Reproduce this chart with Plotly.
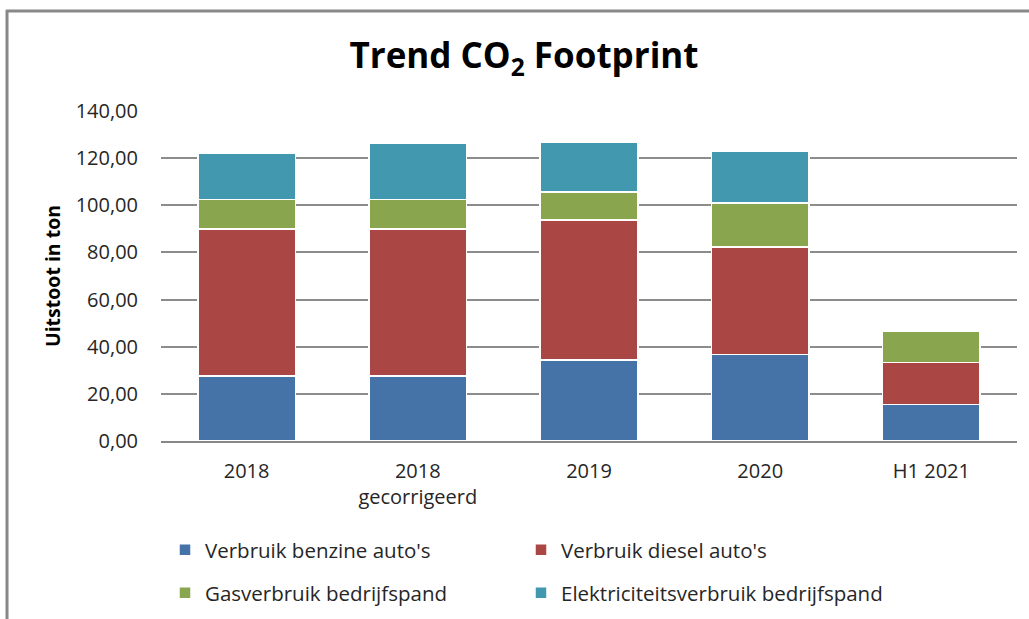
import plotly.graph_objects as go

categories = ["2018", "2018<br>gecorrigeerd", "2019", "2020", "H1 2021"]
benzine = [27.5, 27.5, 34.3, 36.7, 15.5]
diesel = [62.5, 62.5, 59.5, 45.7, 17.8]
gas = [12.4, 12.4, 11.9, 18.6, 13.1]
elektriciteit = [19.8, 24.0, 21.2, 22.0, 0]

series_names = ["Verbruik benzine auto's", "Verbruik diesel auto's",
                "Gasverbruik bedrijfspand", "Elektriciteitsverbruik bedrijfspand"]
colors = ["#4572A7", "#AA4643", "#89A54E", "#4198AF"]
y_ticks = [0, 20, 40, 60, 80, 100, 120, 140]

FONT = "'Open Sans', Lato, sans-serif"
legend_ids = ["legend", "legend2", "legend3", "legend4"]

fig = go.Figure()
for name, vals, col, lid in zip(series_names, [benzine, diesel, gas, elektriciteit], colors, legend_ids):
    fig.add_trace(go.Bar(
        x=categories, y=vals, name=name,
        marker=dict(color=col, line=dict(color="white", width=1.5)),
        legend=lid,
    ))

W, H = 1029, 619
L, R, T, B = 161, 12, 111, 178
pw, ph = W - L - R, H - T - B

def px(x):
    return (x - L) / pw

def py(y):
    return (H - B - y) / ph

legend_pos = [(165, 550), (521, 550), (165, 593), (521, 593)]
legend_layouts = {}
for lid, (lx, ly) in zip(legend_ids, legend_pos):
    legend_layouts[lid] = dict(orientation="h", x=px(lx), xanchor="left", y=py(ly), yanchor="middle",
                               font=dict(size=20.5, color="#262626"), bgcolor="rgba(0,0,0,0)")

fig.update_layout(
    width=W, height=H,
    barmode="stack", bargap=0.43,
    margin=dict(l=L, r=R, t=T, b=B, autoexpand=False),
    paper_bgcolor="white", plot_bgcolor="white",
    separators=",.",
    font=dict(family=FONT, size=19, color="#404040"),
    title=dict(text="<b>Trend CO<sub>2</sub> Footprint</b>", x=524 / W, xanchor="center",
               y=1 - 56 / H, yanchor="middle",
               font=dict(family=FONT, size=35, color="black")),
    xaxis=dict(showline=True, linecolor="#888888", linewidth=2, ticks="",
               tickfont=dict(size=20, color="#262626"), ticklabelstandoff=11),
    yaxis=dict(range=[0, 140], tickvals=y_ticks, tickformat=".2f",
               showgrid=True, gridcolor="#8c8c8c", gridwidth=1.5,
               zeroline=False, showline=False, ticks="outside", ticklen=0,
               tickfont=dict(size=20, color="#262626"), ticklabelstandoff=18,
               title=dict(text="<b>Uitstoot in ton</b>", standoff=9,
                          font=dict(size=19.5, color="black"))),
    showlegend=True,
    **legend_layouts,
)

# chart frame (top and left edges visible)
fig.add_shape(type="line", xref="paper", yref="paper", x0=px(6), x1=px(1040), y0=py(11), y1=py(11),
              line=dict(color="#888888", width=3))
fig.add_shape(type="line", xref="paper", yref="paper", x0=px(7), x1=px(7), y0=py(10), y1=py(640),
              line=dict(color="#888888", width=3))

fig.write_html("out.html", config={"displayModeBar": False},
               post_script="document.body.style.margin='0';document.body.style.overflow='hidden';")
